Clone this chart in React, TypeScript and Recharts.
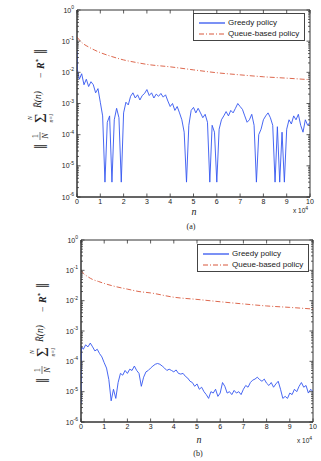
import { LineChart, Line, XAxis, YAxis, ReferenceArea } from 'recharts'

// sample positions (units of 10^4)
const nGrid = [
  0, 0.02, 0.1, 0.2, 0.3, 0.4, 0.5, 0.6, 0.7, 0.8, 0.9, 1,
  1.1, 1.2, 1.3, 1.4, 1.5, 1.6, 1.7, 1.8, 1.9, 2,
  2.1, 2.2, 2.3, 2.4, 2.5, 2.6, 2.7, 2.8, 2.9, 3,
  3.1, 3.2, 3.3, 3.4, 3.5, 3.6, 3.7, 3.8, 3.9, 4,
  4.1, 4.2, 4.3, 4.4, 4.5, 4.6, 4.7, 4.8, 4.9, 5,
  5.1, 5.2, 5.3, 5.4, 5.5, 5.6, 5.7, 5.8, 5.9, 6,
  6.1, 6.2, 6.3, 6.4, 6.5, 6.6, 6.7, 6.8, 6.9, 7,
  7.1, 7.2, 7.3, 7.4, 7.5, 7.6, 7.7, 7.8, 7.9, 8,
  8.1, 8.2, 8.3, 8.4, 8.5, 8.6, 8.7, 8.8, 8.9, 9,
  9.1, 9.2, 9.3, 9.4, 9.5, 9.6, 9.7, 9.8, 9.9, 10,
]

const greedyA = [
  0.05, 0.012,
  0.006, 0.009, 0.004, 0.006, 0.0035, 0.005, 0.004, 0.0022, 0.003, 0.0011,
  0.0004, 3e-6, 0.00025, 0.0004, 3e-6, 0.0003, 0.0007, 0.00035, 3e-6, 0.0005,
  0.0011, 0.0009, 0.0017, 0.0022, 0.0015, 0.0019, 0.0013, 0.0018, 0.0021, 0.0028,
  0.0018, 0.0022, 0.0015, 0.002, 0.0017, 0.0021, 0.0016, 0.0019, 0.0012, 0.0008,
  0.001, 0.0006, 0.0008, 0.0005, 0.0003, 0.00012, 3e-6, 0.0002, 0.0006, 0.00075,
  0.0005, 0.0007, 0.0005, 0.00035, 0.00045, 0.00025, 3e-6, 0.0002, 0.00012, 3e-6,
  0.00015, 0.0003, 0.0004, 0.00055, 0.0004, 0.0006, 0.0005, 0.0007, 0.001, 0.0008,
  0.00065, 0.0004, 0.00025, 0.0003, 0.00045, 0.0002, 3e-6, 0.0001, 0.00015, 0.0003,
  0.0004, 0.0005, 0.00035, 0.0002, 3e-6, 0.00018, 3e-6, 0.00012, 3e-6, 0.00015,
  0.0003, 0.00022, 0.0004, 0.0003, 0.00045, 0.0002, 0.00012, 0.0003, 0.0002, 0.00025,
]

const greedyB = [
  4e-6, 0.0003,
  0.00025, 0.00035, 0.0003, 0.0004, 0.0003, 0.00022, 0.00025, 0.00018, 0.00014, 0.00009,
  0.00006, 0.000025, 0.000005, 0.000012, 0.000006, 0.00002, 0.00004, 0.000035, 0.00005, 0.00004,
  0.000055, 0.00005, 0.00007, 0.00005, 0.00004, 0.000015, 0.00003, 0.000045, 0.00005, 0.00006,
  0.00007, 0.00008, 0.000085, 0.00008, 0.00007, 0.00006, 0.00005, 0.000055, 0.00005, 0.000045,
  0.000052, 0.00004, 0.000038, 0.00004, 0.000032, 0.000028, 0.000022, 0.00002, 0.000015, 0.000018,
  0.000012, 0.000014, 0.00001, 0.000008, 0.000006, 0.00001, 0.000009, 0.000012, 0.000007, 0.000009,
  0.00002, 0.000015, 0.000009, 0.00001, 0.000008, 0.000011, 0.000009, 0.00001, 0.000008, 0.000012,
  0.000016, 0.000014, 0.00002, 0.000024, 0.000026, 0.00003, 0.000025, 0.000022, 0.000026, 0.000019,
  0.000016, 0.00002, 0.000014, 0.000018, 0.000022, 0.000012, 0.000006, 0.000007, 0.000006, 0.000009,
  0.000008, 0.000012, 0.00001, 0.000015, 0.00002, 0.000014, 0.000016, 0.000009, 0.000012, 0.00001,
]

const nQueue = [0, 0.1, 0.25, 0.5, 0.75, 1, 1.5, 2, 2.5, 3, 4, 5, 6, 7, 8, 9, 10]
const queueA = [0.135, 0.11, 0.085, 0.065, 0.052, 0.043, 0.032, 0.025, 0.021, 0.018, 0.015, 0.012, 0.0097, 0.0083, 0.0072, 0.0065, 0.0058]
const queueB = [0.1, 0.08, 0.065, 0.05, 0.043, 0.037, 0.029, 0.024, 0.02, 0.018, 0.013, 0.011, 0.0092, 0.0078, 0.0067, 0.006, 0.0053]

const xTicks = [0, 1, 2, 3, 4, 5, 6, 7, 8, 9, 10]
const yMajor = [1e-6, 1e-5, 1e-4, 1e-3, 1e-2, 1e-1, 1]
const yTicks = yMajor.concat(yMajor.slice(0, -1).flatMap(m => [2, 3, 4, 5, 6, 7, 8, 9].map(k => k * m)))

const SANS = "'Liberation Sans', Arial, sans-serif"
const SERIF = "'Liberation Serif', 'DejaVu Serif', serif"
const AXIS = '#333'
const BLUE = '#3356f0'
const ORANGE = '#d9573a'

const toRows = (xs: number[], vs: number[]) => xs.map((n, i) => ({ n, v: vs[i] }))

type Box = { left: number; right: number; top: number; bottom: number }

const makeYTick = (b: Box) => (props: any) => {
  const { y, payload } = props
  const e = Math.log10(payload.value)
  const major = Math.abs(e - Math.round(e)) < 1e-6
  const len = major ? 3.5 : 2
  return (
    <g>
      <line x1={b.left} x2={b.left + len} y1={y} y2={y} stroke={AXIS} strokeWidth={0.8} />
      <line x1={b.right} x2={b.right - len} y1={y} y2={y} stroke={AXIS} strokeWidth={0.8} />
      {major && (
        <text x={b.left - 3} y={y + 2.5} textAnchor="end" fontSize={7} fill="#222" fontFamily={SANS}>
          10<tspan dy={-3.5} fontSize={5}>{Math.round(e)}</tspan>
        </text>
      )}
    </g>
  )
}

const makeXTick = (b: Box) => (props: any) => {
  const { x, payload } = props
  return (
    <g>
      <line x1={x} x2={x} y1={b.bottom} y2={b.bottom - 3.5} stroke={AXIS} strokeWidth={0.8} />
      <line x1={x} x2={x} y1={b.top} y2={b.top + 3.5} stroke={AXIS} strokeWidth={0.8} />
      <text x={x} y={b.bottom + 7} textAnchor="middle" fontSize={7} fill="#222" fontFamily={SANS}>
        {payload.value}
      </text>
    </g>
  )
}

function Panel({ top, height, box, greedy, queue }: {
  top: number; height: number; box: Box; greedy: number[]; queue: number[]
}) {
  const margin = { top: box.top, right: 321 - box.right, left: box.left - 30, bottom: height - box.bottom - 14 }
  return (
    <div style={{ position: 'absolute', left: 0, top }}>
      <LineChart width={321} height={height} margin={margin}>
        <XAxis
          type="number" dataKey="n" domain={[0, 10]} ticks={xTicks} interval={0}
          height={14} tickSize={0} tickLine={false} axisLine={{ stroke: AXIS, strokeWidth: 1 }}
          tick={makeXTick(box)} allowDataOverflow
        />
        <YAxis
          type="number" scale="log" domain={[1e-6, 1]} ticks={yTicks} interval={0}
          width={30} tickSize={0} tickLine={false} axisLine={{ stroke: AXIS, strokeWidth: 1 }}
          tick={makeYTick(box)} allowDataOverflow
        />
        <ReferenceArea x1={0} x2={10} y1={1e-6} y2={1} fill="none" stroke={AXIS} strokeWidth={1} ifOverflow="visible" />
        <Line data={toRows(nQueue, queue)} dataKey="v" type="monotone" stroke={ORANGE} strokeWidth={0.9}
          strokeDasharray="5 2 1 2" dot={false} isAnimationActive={false} />
        <Line data={toRows(nGrid, greedy)} dataKey="v" type="linear" stroke={BLUE} strokeWidth={0.9}
          dot={false} isAnimationActive={false} />
      </LineChart>
    </div>
  )
}

function LegendBox({ left, top }: { left: number; top: number }) {
  const row = (label: string, dash?: string) => (
    <div style={{ display: 'flex', alignItems: 'center', height: 11, whiteSpace: 'nowrap' }}>
      <svg width={27} height={6} style={{ marginRight: 2, flexShrink: 0 }}>
        <line x1={0} x2={26} y1={3} y2={3} stroke={dash ? ORANGE : BLUE} strokeWidth={dash ? 1 : 1.3} strokeDasharray={dash} />
      </svg>
      <span>{label}</span>
    </div>
  )
  return (
    <div style={{
      position: 'absolute', left, top, width: 112, height: 28, boxSizing: 'border-box',
      border: '1px solid #444', background: '#fff', padding: '3px 0 0 5px',
      fontFamily: SANS, fontSize: 8, color: '#222', lineHeight: '11px', overflow: 'hidden',
    }}>
      {row('Greedy policy')}
      {row('Queue-based policy', '5 2 1 2')}
    </div>
  )
}

function YLabel({ cx, cy }: { cx: number; cy: number }) {
  return (
    <g transform={`translate(${cx},${cy}) rotate(-90)`} fontFamily={SERIF} fill="#222">
      <text x={-52} y={6} fontSize={19}>‖</text>
      <text x={-39} y={-3} fontSize={8.5} textAnchor="middle">1</text>
      <line x1={-43} x2={-35} y1={-1} y2={-1} stroke="#222" strokeWidth={0.6} />
      <text x={-39} y={7} fontSize={8.5} textAnchor="middle" fontStyle="italic">N</text>
      <text x={-21} y={-9} fontSize={6} textAnchor="middle" fontStyle="italic">N</text>
      <text x={-21} y={5} fontSize={17} textAnchor="middle">Σ</text>
      <text x={-21} y={12} fontSize={5.5} textAnchor="middle" fontStyle="italic">n=1</text>
      <text x={-11} y={0} fontSize={9.5} fontStyle="italic">R̄(n)</text>
      <text x={19} y={3} fontSize={10}>−</text>
      <text x={28} y={3} fontSize={10} fontStyle="italic" fontWeight="bold">R<tspan dy={-4} fontSize={6}>*</tspan></text>
      <text x={43} y={6} fontSize={19}>‖</text>
    </g>
  )
}

export default function App() {
  const boxA = { left: 77, right: 310, top: 10, bottom: 197 }
  const boxB = { left: 81, right: 313, top: 10, bottom: 192 }
  return (
    <div style={{ position: 'absolute', left: 0, top: 0, width: 321, height: 461, background: '#fff' }}>
      <Panel top={0} height={230} box={boxA} greedy={greedyA} queue={queueA} />
      <Panel top={230} height={231} box={boxB} greedy={greedyB} queue={queueB} />
      <LegendBox left={193} top={13} />
      <LegendBox left={197} top={244} />
      <svg width={321} height={461} style={{ position: 'absolute', left: 0, top: 0, pointerEvents: 'none' }}>
        <YLabel cx={41} cy={97} />
        <YLabel cx={43} cy={331} />
        <text x={194} y={214.5} fontSize={10} fontStyle="italic" fontFamily={SERIF} textAnchor="middle" fill="#222">n</text>
        <text x={199} y={443} fontSize={10} fontStyle="italic" fontFamily={SERIF} textAnchor="middle" fill="#222">n</text>
        <text x={293} y={213} fontSize={6.5} fontFamily={SANS} fill="#222">x 10<tspan dy={-3} fontSize={5}>4</tspan></text>
        <text x={297} y={443} fontSize={6.5} fontFamily={SANS} fill="#222">x 10<tspan dy={-3} fontSize={5}>4</tspan></text>
        <text x={191} y={229} fontSize={8} fontFamily={SERIF} textAnchor="middle" fill="#222">(a)</text>
        <text x={198} y={456} fontSize={8} fontFamily={SERIF} textAnchor="middle" fill="#222">(b)</text>
      </svg>
    </div>
  )
}
